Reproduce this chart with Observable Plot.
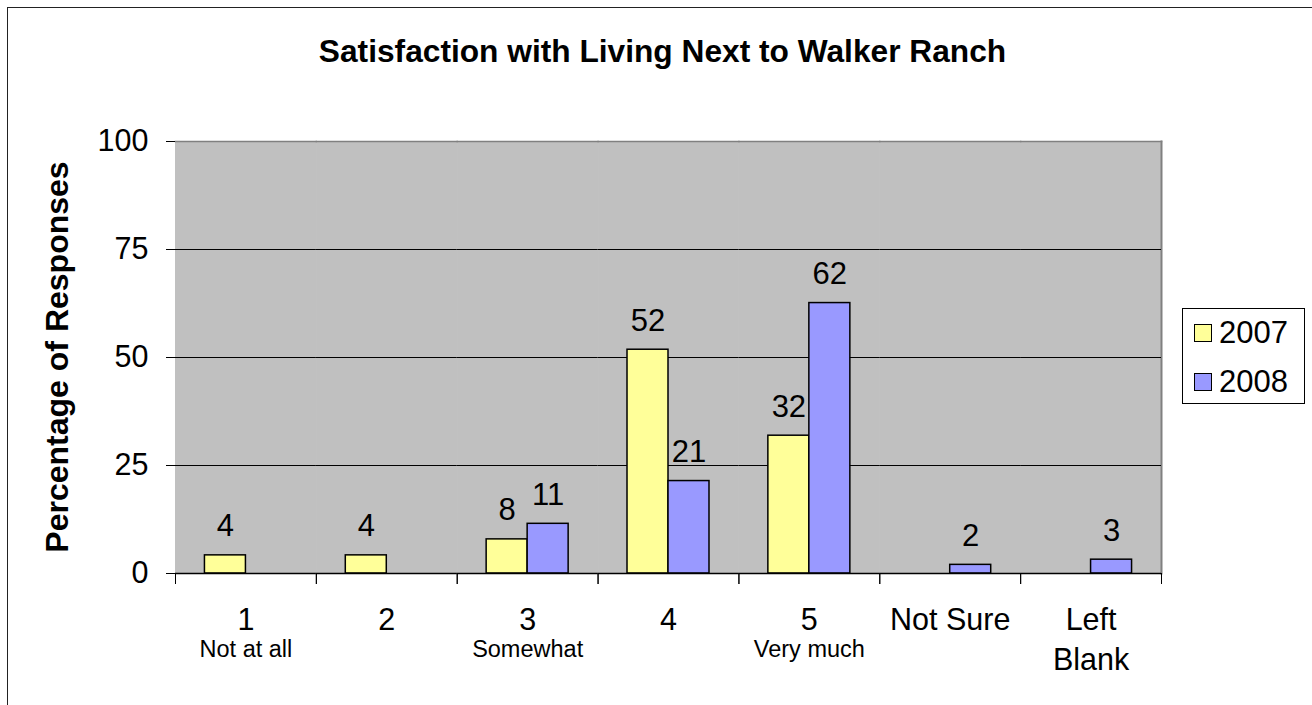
<!DOCTYPE html>
<html>
<head>
<meta charset="utf-8">
<script src="https://cdn.jsdelivr.net/npm/d3@7"></script>
<script src="https://cdn.jsdelivr.net/npm/@observablehq/plot@0.6"></script>
<style>
  html, body { margin: 0; padding: 0; background: #fff; overflow: hidden; }
  body { width: 1312px; height: 705px; position: relative; font-family: "Liberation Sans", Arial, sans-serif; }
  #border { position: absolute; left: 7px; top: 7px; width: 1400px; height: 800px; border: 1.5px solid #222; box-sizing: border-box; }
  #chart { position: absolute; left: 0; top: 0; }
  #title { position: absolute; left: 0; width: 1325px; top: 33px; text-align: center; font-weight: bold; font-size: 31.7px; line-height: 36px; white-space: nowrap; }
  #ylabel { position: absolute; left: 57px; top: 357px; transform: translate(-50%, -50%) rotate(-90deg); font-weight: bold; font-size: 32px; line-height: 36px; white-space: nowrap; }
  #legend { position: absolute; left: 1182px; top: 308px; width: 123px; height: 96px; border: 1px solid #000; box-sizing: border-box; background: #fff; }
  .item { position: absolute; left: 11px; height: 36px; display: flex; align-items: center; font-size: 31px; }
  .sw { width: 16px; height: 16px; border: 1px solid #000; margin-right: 7px; }
</style>
</head>
<body>
<div id="border"></div>
<div id="chart"></div>
<div id="title"></div>
<div id="ylabel"></div>
<div id="legend"></div>
<script>
// ---- data ----
const categories = ["1", "2", "3", "4", "5", "Not Sure", "Left Blank"];
const mainLabels = ["1", "2", "3", "4", "5", "Not Sure", "Left\nBlank"];
const subLabels = ["Not at all", "", "Somewhat", "", "Very much", "", ""];
const years = ["2007", "2008"];
const values2007 = [4.2, 4.2, 7.9, 51.8, 31.9, null, null];
const values2008 = [null, null, 11.5, 21.4, 62.6, 2.0, 3.2];
const labels2007 = ["4", "4", "8", "52", "32", null, null];
const labels2008 = [null, null, "11", "21", "62", "2", "3"];
const yTicks = [0, 25, 50, 75, 100];
const gridTicks = [25, 50, 75];
const colors = ["#FFFF99", "#9999FF"];
const titleText = "Satisfaction with Living Next to Walker Ranch";
const yTitle = "Percentage of Responses";

// ---- build rows ----
const rows = [];
categories.forEach((c, i) => {
  if (values2007[i] != null) rows.push({cat: c, year: "2007", value: values2007[i], label: labels2007[i]});
  if (values2008[i] != null) rows.push({cat: c, year: "2008", value: values2008[i], label: labels2008[i]});
});
const catRows = categories.map((c, i) => ({cat: c, main: mainLabels[i], sub: subLabels[i]}));

const font = '"Liberation Sans", Arial, sans-serif';

const chart = Plot.plot({
  width: 1312,
  height: 705,
  marginLeft: 175,
  marginRight: 151,
  marginTop: 141,
  marginBottom: 132,
  style: {fontFamily: font, background: "transparent", color: "#000", overflow: "visible"},
  fx: {domain: categories, padding: 0, round: false, axis: null},
  x: {domain: years, paddingInner: 0, paddingOuter: 0.718, round: false, axis: null},
  y: {domain: [0, 100], axis: null},
  color: {domain: years, range: colors},
  marks: [
    Plot.frame({fill: "#C0C0C0", stroke: "#C0C0C0", strokeWidth: 1}),
    Plot.frame({anchor: "top", stroke: "#808080", strokeWidth: 1.5}),
    Plot.frame({facet: "super", anchor: "right", stroke: "#808080", strokeWidth: 2}),
    Plot.gridY(gridTicks, {stroke: "#000", strokeOpacity: 1, strokeWidth: 1}),
    // group boundary ticks below the axis
    Plot.frame({anchor: "left", stroke: "#000", insetTop: 432, insetBottom: -10}),
    Plot.frame({anchor: "right", stroke: "#000", insetTop: 432, insetBottom: -10}),
    Plot.barY(rows, {fx: "cat", x: "year", y: "value", fill: "year", stroke: "#000", strokeWidth: 1.5}),
    Plot.ruleY([0], {stroke: "#000", strokeWidth: 1.5}),
    Plot.text(rows, {fx: "cat", x: "year", y: "value", text: "label", dy: -19, lineAnchor: "bottom", fontSize: 31, fill: "#000"}),
    Plot.text(catRows, {fx: "cat", text: "main", frameAnchor: "bottom", dy: 28, lineAnchor: "top", fontSize: 30.5, lineHeight: 1.31, fill: "#000"}),
    Plot.text(catRows, {fx: "cat", text: "sub", frameAnchor: "bottom", dy: 67, lineAnchor: "top", fontSize: 23.5, fill: "#000"}),
    Plot.axisY({ticks: yTicks, tickSize: 9, tickPadding: 18, fontSize: 30.5, label: null, stroke: "#000"})
  ]
});
document.getElementById("chart").appendChild(chart);

document.getElementById("title").textContent = titleText;
document.getElementById("ylabel").textContent = yTitle;

const legend = document.getElementById("legend");
years.forEach((y, i) => {
  const it = document.createElement("div");
  it.className = "item";
  it.style.top = (i === 0 ? 6 : 55) + "px";
  const sw = document.createElement("div");
  sw.className = "sw";
  sw.style.background = colors[i];
  const t = document.createElement("span");
  t.textContent = y;
  it.appendChild(sw);
  it.appendChild(t);
  legend.appendChild(it);
});
</script>
</body>
</html>
